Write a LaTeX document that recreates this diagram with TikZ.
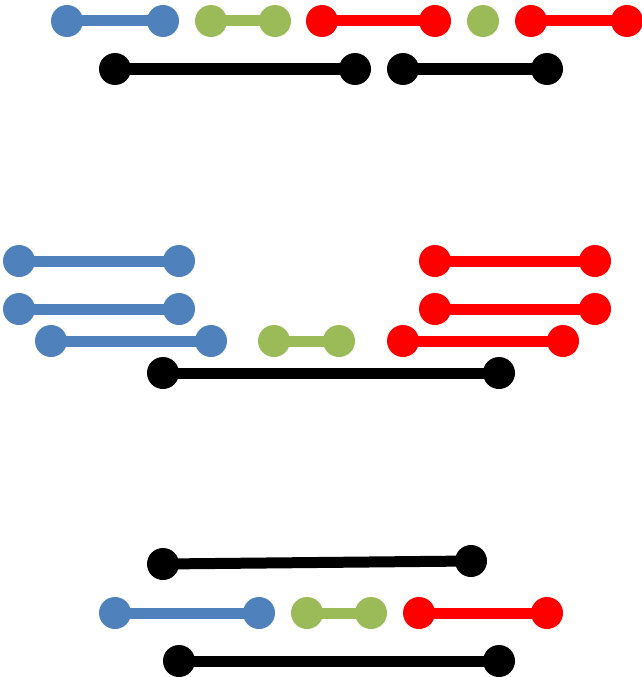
\documentclass[tikz,border=0pt]{standalone}
\usetikzlibrary{backgrounds}
\begin{document}
\begin{tikzpicture}[x=1pt,y=-1pt,
  dot/.style={circle,inner sep=0pt,minimum size=32pt,fill=#1},
  seg/.style={draw=#1,line width=11pt},
]
\definecolor{segblue}{HTML}{4F81BD}
\definecolor{seggreen}{HTML}{9BBB59}
\definecolor{segred}{HTML}{FF0000}
\useasboundingbox (0,0) rectangle (642,677);

% ---- top group ----
\node[dot=segblue] (tb1) at (67,21) {};
\node[dot=segblue] (tb2) at (163,21) {};
\node[dot=seggreen] (tg1) at (211,21) {};
\node[dot=seggreen] (tg2) at (275,21) {};
\node[dot=segred] (tr1) at (322,21) {};
\node[dot=segred] (tr2) at (435,21) {};
\node[dot=seggreen] (tg3) at (483,21) {};
\node[dot=segred] (tr3) at (531,21) {};
\node[dot=segred] (tr4) at (627,21) {};
\node[dot=black] (tk1) at (115,69) {};
\node[dot=black] (tk2) at (355,69) {};
\node[dot=black] (tk3) at (403,69) {};
\node[dot=black] (tk4) at (547,69) {};

% ---- middle group ----
\node[dot=segblue] (mb1) at (19,261) {};
\node[dot=segblue] (mb2) at (179,261) {};
\node[dot=segblue] (mb3) at (19,309) {};
\node[dot=segblue] (mb4) at (179,309) {};
\node[dot=segblue] (mb5) at (51,341) {};
\node[dot=segblue] (mb6) at (211,341) {};
\node[dot=seggreen] (mg1) at (274,341) {};
\node[dot=seggreen] (mg2) at (339,341) {};
\node[dot=segred] (mr1) at (435,261) {};
\node[dot=segred] (mr2) at (595,261) {};
\node[dot=segred] (mr3) at (435,309) {};
\node[dot=segred] (mr4) at (595,309) {};
\node[dot=segred] (mr5) at (403,341) {};
\node[dot=segred] (mr6) at (563,341) {};
\node[dot=black] (mk1) at (163,373) {};
\node[dot=black] (mk2) at (499,373) {};

% ---- bottom group ----
\node[dot=black] (bk1) at (163,564) {};
\node[dot=black] (bk2) at (471,561) {};
\node[dot=segblue] (bb1) at (115,613) {};
\node[dot=segblue] (bb2) at (259,613) {};
\node[dot=seggreen] (bg1) at (307,613) {};
\node[dot=seggreen] (bg2) at (371,613) {};
\node[dot=segred] (br1) at (419,613) {};
\node[dot=segred] (br2) at (547,613) {};
\node[dot=black] (bk3) at (179,661) {};
\node[dot=black] (bk4) at (499,661) {};

% bars run centre to centre, behind the dots
\begin{scope}[on background layer]
\draw[seg=segblue] (tb1.center) -- (tb2.center);
\draw[seg=seggreen] (tg1.center) -- (tg2.center);
\draw[seg=segred] (tr1.center) -- (tr2.center);
\draw[seg=segred] (tr3.center) -- (tr4.center);
\draw[seg=black] (tk1.center) -- (tk2.center);
\draw[seg=black] (tk3.center) -- (tk4.center);

\draw[seg=segblue] (mb1.center) -- (mb2.center);
\draw[seg=segblue] (mb3.center) -- (mb4.center);
\draw[seg=segblue] (mb5.center) -- (mb6.center);
\draw[seg=seggreen] (mg1.center) -- (mg2.center);
\draw[seg=segred] (mr1.center) -- (mr2.center);
\draw[seg=segred] (mr3.center) -- (mr4.center);
\draw[seg=segred] (mr5.center) -- (mr6.center);
\draw[seg=black] (mk1.center) -- (mk2.center);

\draw[seg=black] (bk1.center) -- (bk2.center);
\draw[seg=segblue] (bb1.center) -- (bb2.center);
\draw[seg=seggreen] (bg1.center) -- (bg2.center);
\draw[seg=segred] (br1.center) -- (br2.center);
\draw[seg=black] (bk3.center) -- (bk4.center);
\end{scope}
\end{tikzpicture}
\end{document}
